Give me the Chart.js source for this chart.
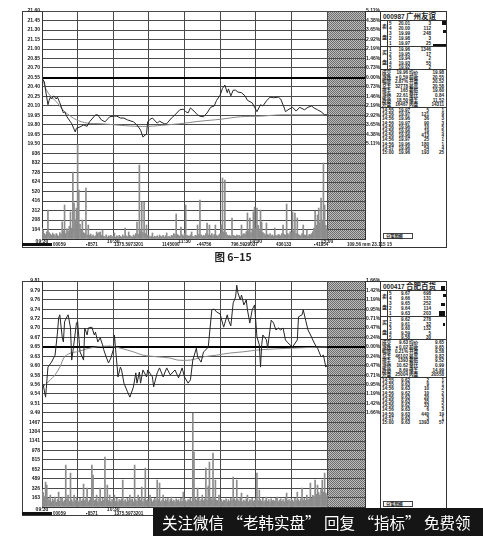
<!DOCTYPE html>
<html>
<head>
<meta charset="utf-8">
<script src="https://cdn.jsdelivr.net/npm/chart.js@4/dist/chart.umd.min.js"></script>
<style>
html,body{margin:0;padding:0;background:#fff;}
#page{position:relative;width:483px;height:536px;overflow:hidden;background:#fff;font-family:"Liberation Sans",Arial,sans-serif;color:#1a1a1a;}
.frame{position:absolute;border:1px solid #3c3c3c;box-sizing:border-box;}
canvas{position:absolute;}
.panel{position:absolute;border:1px solid #333;box-sizing:border-box;background:#fff;overflow:hidden;}
.t{position:absolute;white-space:nowrap;font-size:4.6px;line-height:5px;color:#1c1c1c;font-weight:bold;}
.cn{font-family:"Noto Sans CJK SC",sans-serif;}
.hl{position:absolute;height:1px;background:#333;}
.blk{position:absolute;background:#111;}
#caption{position:absolute;left:200px;top:249px;width:66px;text-align:center;font:bold 10.5px "Noto Sans CJK SC",sans-serif;color:#222;}
#mark{position:absolute;left:153px;top:508px;width:330px;height:28px;background:#151515;color:#fff;font:15.5px/28px "Noto Sans CJK SC",sans-serif;padding-left:9px;box-sizing:border-box;white-space:nowrap;}
</style>
</head>
<body>
<div id="page">
  <div class="frame" style="left:22px;top:11px;width:425px;height:237px;"></div>
  <canvas id="chartTop" width="381" height="248" style="left:0;top:0;"></canvas>
  <div class="panel" id="panelTop" style="left:380px;top:11px;width:67px;height:237px;"></div>
  <div id="statusTop"></div>

  <div id="caption">图 6–15</div>

  <div class="frame" style="left:22px;top:281px;width:425px;height:235px;"></div>
  <canvas id="chartBottom" width="381" height="246" style="left:0;top:270px;"></canvas>
  <div class="panel" id="panelBottom" style="left:380px;top:281px;width:67px;height:235px;"></div>
  <div id="statusBottom"></div>

  <div id="mark">关注微信 “老韩实盘” 回复 “指标” 免费领</div>
</div>

<script>
// ---------- 000987 广州友谊 分时 ----------
const topPrevClose = 20.55;
const topPriceStep = 0.15;
const topPriceLabels = ['21.60','21.45','21.30','21.15','21.00','20.85','20.70','20.55','20.40','20.25','20.10','19.95','19.80','19.65','19.50'];
const topPctLabels = ['5.11%','4.38%','3.65%','2.92%','2.19%','1.46%','0.73%','0.00%','0.73%','1.46%','2.19%','2.92%','3.65%','4.38%','5.11%'];
const topVolLabels = ['936','832','728','624','520','416','312','208','104'];

const topTimes = [0,2,3,5,6,7,8,10,12,13,15,18,19,21,24,25,28,29,32,35,38,40,45,47,50,53,57,61,63,66,69,72,77,80,83,85,88,89,91,93,97,99,103,105,109,112,116,119,121,123,125,128,131,133,136,139,142,145,147,150,152,154,156,157,159,161,163,165,168,171,173,177,179,181,184,186,189,192,195,199,201,204,205,208,211,214,217,221,224,227,229,232,235,238,240];
const topPrices = [20.54,20.48,20.35,20.12,20.19,20.24,20.21,20.26,20.21,20.24,20.15,19.99,20.01,19.93,19.85,19.82,19.69,19.75,19.77,19.80,19.78,19.85,19.96,19.96,19.88,19.85,19.93,19.94,19.94,19.91,19.91,19.88,19.85,19.80,19.72,19.61,19.66,19.85,19.89,19.91,19.83,19.86,19.82,19.82,19.91,19.96,20.04,20.05,20.01,19.99,20.07,20.02,19.96,19.94,19.93,19.99,20.08,20.10,20.19,20.27,20.38,20.43,20.31,20.37,20.26,20.35,20.35,20.32,20.31,20.26,20.19,20.15,20.08,20.01,20.12,20.10,20.18,20.24,20.23,20.24,20.21,20.07,20.01,20.05,20.08,20.02,20.08,20.04,20.08,20.10,20.07,20.04,20.01,19.96,19.96];
const topAvgTimes = [1,3,7,11,15,19,24,29,38,49,63,78,91,104,116,133,150,167,184,200,217,240];
const topAvgPrices = [20.51,20.38,20.26,20.19,20.10,20.01,19.94,19.88,19.83,19.82,19.80,19.78,19.78,19.80,19.82,19.86,19.89,19.93,19.94,19.96,19.96,19.96];
const topVolumes = [
  120,95,60,45,80,317,70,55,40,65,
  50,35,60,45,30,70,55,186,90,372,
  60,110,85,140,296,120,733,394,210,339,
  1029,536,160,95,208,70,60,558,45,153,
  40,55,30,45,25,35,77,60,70,77,
  40,99,30,25,45,20,35,30,40,25,
  30,66,20,35,25,40,30,20,45,30,
  120,35,25,77,40,30,20,45,35,60,
  186,50,810,90,405,70,405,60,153,40,
  35,25,30,66,20,30,25,35,20,44,
  30,25,40,20,35,66,25,30,20,40,
  35,60,45,274,50,40,30,131,45,35,
  60,372,40,35,30,45,77,30,25,40,
  35,153,50,427,45,30,40,35,60,175,
  45,153,40,60,35,50,153,40,30,45,
  60,153,668,80,646,70,45,35,40,30,
  230,40,35,30,45,35,40,30,153,45,
  60,50,80,285,90,230,70,110,296,350,
  120,339,150,90,317,186,70,60,45,175,
  50,40,60,35,45,30,120,40,35,50,
  45,35,60,153,50,40,383,60,45,80,
  70,296,90,285,60,230,50,40,35,60,
  153,45,40,99,35,50,45,60,80,120,
  306,150,263,339,180,449,200,832,372,150,
  100
];

// ---------- 000417 合肥百货 分时 ----------
const botPrevClose = 9.65;
const botPriceStep = 0.02287;
const botPriceLabels = ['9.81','9.79','9.76','9.74','9.72','9.70','9.67','9.65','9.63','9.60','9.58','9.56','9.54','9.51','9.49'];
const botPctLabels = ['1.66%','1.42%','1.19%','0.95%','0.71%','0.47%','0.24%','0.00%','0.24%','0.47%','0.71%','0.95%','1.19%','1.42%','1.66%'];
const botVolLabels = ['1467','1304','1141','978','815','652','489','326','163'];

const botTimes = [1,3,5,8,11,13,14,15,17,18,19,21,22,24,25,26,29,30,32,35,36,38,39,42,44,45,47,49,51,52,54,56,58,60,61,62,63,64,66,67,69,72,74,77,79,80,82,83,85,88,89,93,94,97,99,102,105,108,112,115,118,120,123,125,127,130,131,134,136,138,140,143,145,147,150,152,153,156,157,159,161,163,164,165,167,168,170,172,173,175,177,179,181,183,184,185,186,189,190,193,195,197,199,201,203,205,207,210,211,215,216,219,220,222,224,227,228,231,232,235,237,239,240];
const botPrices = [9.558,9.528,9.601,9.613,9.630,9.684,9.720,9.728,9.674,9.662,9.711,9.723,9.728,9.696,9.618,9.638,9.708,9.711,9.638,9.618,9.696,9.679,9.696,9.698,9.679,9.686,9.662,9.672,9.655,9.643,9.626,9.611,9.623,9.643,9.679,9.643,9.611,9.577,9.601,9.594,9.562,9.541,9.528,9.553,9.587,9.562,9.589,9.562,9.594,9.577,9.594,9.577,9.553,9.587,9.599,9.577,9.599,9.582,9.594,9.575,9.599,9.577,9.562,9.570,9.618,9.647,9.626,9.613,9.638,9.643,9.650,9.740,9.742,9.735,9.730,9.708,9.698,9.728,9.715,9.701,9.757,9.771,9.800,9.781,9.764,9.776,9.752,9.764,9.740,9.708,9.740,9.752,9.674,9.655,9.601,9.655,9.679,9.667,9.647,9.715,9.708,9.691,9.696,9.691,9.696,9.667,9.660,9.652,9.650,9.667,9.723,9.728,9.740,9.715,9.691,9.674,9.667,9.650,9.647,9.626,9.630,9.601,9.606];
const botAvgTimes = [1,7,11,15,19,24,29,35,40,46,57,66,77,85,97,108,114,125,136,147,158,169,184,211,240];
const botAvgPrices = [9.553,9.570,9.582,9.601,9.626,9.635,9.638,9.643,9.647,9.650,9.652,9.647,9.638,9.630,9.626,9.623,9.618,9.618,9.626,9.630,9.635,9.638,9.643,9.647,9.650];
const botVolumes = [
  300,250,180,433,381,150,120,208,90,140,
  110,173,80,130,260,100,150,173,90,120,
  727,140,208,100,588,130,90,208,110,173,
  120,90,150,100,130,398,110,140,329,90,
  120,150,727,554,110,130,208,90,140,329,
  100,150,120,865,140,381,110,208,90,130,
  120,208,100,150,90,130,110,140,467,100,
  130,90,150,110,208,120,140,90,727,130,
  100,208,150,120,346,90,140,675,110,130,
  100,208,140,90,120,150,110,467,130,415,
  90,120,208,100,140,110,156,90,130,173,
  100,120,90,140,110,130,90,150,100,260,
  140,110,90,130,120,150,100,1627,952,140,
  120,329,150,100,130,208,110,140,675,120,
  363,779,150,130,934,140,467,120,110,208,
  100,130,90,120,110,140,90,130,100,150,
  120,519,140,110,467,130,100,150,242,90,
  120,100,140,208,90,130,110,150,100,120,
  140,588,110,294,130,100,150,90,120,173,
  100,130,90,140,110,120,100,150,173,90,
  120,140,100,130,90,150,242,110,130,100,
  140,120,90,150,110,260,130,100,140,329,
  120,150,110,208,130,140,415,150,200,180,
  467,220,381,250,200,300,467,260,588,240,
  200
];

// shared time axis: 240 trading minutes plus the shaded after-close strip
const timeTickMinutes = [0,60,120,180,240];
const timeTickLabels = ['09:30','10:30','11:30','14:00','15:00'];
const gridMinutes = [0,30,60,90,120,150,180,210,240,272];
const sessionEnd = 240;
const axisEnd = 272;

// ---------- quote panels ----------
const topQuote = {
  code:'000987', name:'广州友谊',
  sells:[['20.01','3'],['20.00','112'],['19.99','248'],['19.98','3'],['19.97','25']],
  buys:[['19.96','1346'],['19.95','17'],['19.94','2'],['19.93','55'],['19.92','2']],
  stats:[['成交','19.96','均价','19.98'],['涨跌','▼0.59','前收','20.55'],['幅度','2.87%','开盘','20.52'],['总手','32778','最高','20.58'],['现手','165','最低','19.60'],['涨停','22.61','量比','0.84'],['跌停','18.50','换手','11.52'],['外盘','16467','内盘','14311']],
  ticks:[['14:55','19.97','5','1'],['14:56','19.97','121','9'],['14:56','19.96','36','3'],['14:56','19.97','90','3'],['14:56','19.96','10','5'],['14:56','19.96','19','5'],['14:56','19.96','413','4'],['14:56','19.97','25','1'],['14:56','19.96','180','1'],['14:57','19.96','54','4'],['15:00','19.96','193','25']],
  marks:[[61,9,4,4],[62,18,3,3],[52,32,13,2]]
};
const botQuote = {
  code:'000417', name:'合肥百货',
  sells:[['9.67','698'],['9.66','131'],['9.65','252'],['9.64','114'],['9.63','203']],
  buys:[['9.62','278'],['9.61','32'],['9.60','132'],['9.59','5'],['9.58','30']],
  stats:[['成交','9.63','均价','9.65'],['涨跌','▼0.02','前收','9.65'],['幅度','0.21%','开盘','9.58'],['总手','46102','最高','9.82'],['现手','1393','最低','9.52'],['涨停','10.62','量比','0.99'],['跌停','8.69','换手','14.99'],['外盘','25004','内盘','20558']],
  ticks:[['14:55','9.62','2','1'],['14:55','9.63','9','1'],['14:56','9.63','10','2'],['14:56','9.62','10','2'],['14:56','9.63','20','3'],['14:56','9.63','35','4'],['14:56','9.62','33','5'],['14:56','9.63','6','3'],['14:56','9.63','440','19'],['14:57','9.63','3','1'],['15:00','9.63','1393','57']],
  marks:[[60,4,4,5],[62,12,3,3],[60,21,4,3],[58,29,6,5],[62,41,2,3]]
};

const statusItems = [[53,'00059'],[86,'▪8571'],[114,'1375.5973201'],[162,'1145000'],[197,'▪44756'],[231,'796.5929037'],[276,'436133'],[314,'▪41954'],[347,'109.56 mm 23.115 15']];

const TICK_FONT = {family:'"Liberation Sans", Arial, sans-serif', size:5, weight:'bold'};
const GRID = '#4a4a4a';

// crosshatch fill for the after-close strip
function makeHatch(ctx) {
  const c = document.createElement('canvas');
  c.width = 2; c.height = 2;
  const g = c.getContext('2d');
  g.fillStyle = '#bdbdbd'; g.fillRect(0,0,2,2);
  g.fillStyle = '#6c6c6c'; g.fillRect(0,0,1,1); g.fillRect(1,1,1,1);
  return ctx.createPattern(c, 'repeat');
}

const hatchPlugin = {
  id: 'hatch',
  beforeDraw(chart, args, opts) {
    const {ctx, chartArea: a, scales} = chart;
    const x0 = scales.x.getPixelForValue(opts.from);
    ctx.save();
    ctx.fillStyle = makeHatch(ctx);
    ctx.fillRect(x0, a.top, a.right - x0, a.bottom - a.top);
    ctx.restore();
  }
};

function drawIntraday(canvasId, d) {
  const half = (d.priceLabels.length - 1) / 2;
  const pMax = d.prevClose + half * d.step;
  const pMin = d.prevClose - half * d.step;
  const priceTicks = d.priceLabels.map((_, i) => ({value: pMax - i * d.step}));
  const volStep = parseFloat(d.volLabels[d.volLabels.length - 1]);
  const volMax = volStep * (d.volLabels.length + 1);
  const volTicks = [];
  for (let k = 0; k <= d.volLabels.length + 1; k++) volTicks.push({value: k * volStep});

  const isClose = v => Math.abs(v - d.prevClose) < 1e-6;

  new Chart(document.getElementById(canvasId), {
    type: 'line',
    data: {
      datasets: [
        {type:'line', data: d.times.map((t, i) => ({x: t, y: d.prices[i]})), yAxisID:'yP',
         borderColor:'#262626', borderWidth:1, pointRadius:0, tension:0, order:1},
        {type:'line', data: d.avgTimes.map((t, i) => ({x: t, y: d.avgPrices[i]})), yAxisID:'yP',
         borderColor:'#8a8a8a', borderWidth:1, pointRadius:0, tension:0.3, order:2},
        {type:'bar', data: d.volumes.map((v, i) => ({x: i, y: v})), yAxisID:'yV',
         backgroundColor:'#8c8c8c', borderWidth:0, barThickness:1, order:3}
      ]
    },
    options: {
      responsive:false, animation:false, devicePixelRatio:1, events:[],
      layout:{padding:{top:11, left:0, right:0, bottom:0}},
      plugins:{legend:{display:false}, tooltip:{enabled:false}, hatch:{from: sessionEnd}},
      scales: {
        x: {
          type:'linear', min:0, max:axisEnd, offset:false,
          afterBuildTicks: s => { s.ticks = gridMinutes.map(v => ({value: v})); },
          ticks:{autoSkip:false, maxRotation:0, padding:0, font:TICK_FONT, color:'#222',
                 callback: v => { const i = timeTickMinutes.indexOf(v); return i < 0 ? '' : timeTickLabels[i]; }},
          grid:{color:GRID, lineWidth:1, drawTicks:false, offset:false},
          border:{color:'#333'},
          afterFit: s => { s.height = 9; }
        },
        // left stack is laid out in reverse order: the volume pane is listed first so it sits below
        yV: {
          type:'linear', position:'left', stack:'L', stackWeight:10, min:0, max:volMax,
          afterBuildTicks: s => { s.ticks = volTicks.map(t => ({value: t.value})); },
          ticks:{autoSkip:false, padding:2, font:TICK_FONT, color:'#222',
                 callback: v => { const k = Math.round(v / volStep); return (k >= 1 && k <= d.volLabels.length) ? d.volLabels[d.volLabels.length - k] : ''; }},
          grid:{drawTicks:false, color:GRID, lineWidth:1},
          border:{color:'#333'},
          afterFit: s => { s.width = 42; }
        },
        yP: {
          type:'linear', position:'left', stack:'L', stackWeight:14, min:pMin, max:pMax,
          afterBuildTicks: s => { s.ticks = priceTicks.map(t => ({value: t.value})); },
          ticks:{autoSkip:false, padding:2, font:TICK_FONT, color:'#222', callback: (v, i) => d.priceLabels[i]},
          grid:{drawTicks:false, color: c => (c.tick && isClose(c.tick.value)) ? '#000' : GRID,
                lineWidth: c => (c.tick && isClose(c.tick.value)) ? 2 : 1},
          border:{color:'#333'},
          afterFit: s => { s.width = 42; }
        },
        yR: {
          type:'linear', position:'right', stack:'R', stackWeight:14, min:pMin, max:pMax,
          afterBuildTicks: s => { s.ticks = priceTicks.map(t => ({value: t.value})); },
          ticks:{autoSkip:false, padding:1, font:TICK_FONT, color:'#222', callback: (v, i) => d.pctLabels[i]},
          grid:{display:false, drawTicks:false},
          border:{color:'#333'},
          afterFit: s => { s.width = 16; }
        },
        yR2: {
          type:'linear', position:'right', stack:'R', stackWeight:10, min:0, max:1,
          ticks:{display:false}, grid:{display:false, drawTicks:false},
          border:{color:'#333'},
          afterFit: s => { s.width = 16; }
        }
      }
    },
    plugins:[hatchPlugin]
  });
}

drawIntraday('chartTop', {
  prevClose: topPrevClose, step: topPriceStep, priceLabels: topPriceLabels, pctLabels: topPctLabels,
  volLabels: topVolLabels, times: topTimes, prices: topPrices, avgTimes: topAvgTimes,
  avgPrices: topAvgPrices, volumes: topVolumes
});
drawIntraday('chartBottom', {
  prevClose: botPrevClose, step: botPriceStep, priceLabels: botPriceLabels, pctLabels: botPctLabels,
  volLabels: botVolLabels, times: botTimes, prices: botPrices, avgTimes: botAvgTimes,
  avgPrices: botAvgPrices, volumes: botVolumes
});

// ---------- quote panel ----------
function txt(el, s, x, y, opt) {
  const n = document.createElement('div');
  n.className = 't' + (opt && opt.cn ? ' cn' : '');
  n.textContent = s;
  n.style.top = y + 'px';
  if (opt && opt.right !== undefined) {
    n.style.left = (opt.right - 30) + 'px';
    n.style.width = '30px';
    n.style.textAlign = 'right';
  } else {
    n.style.left = x + 'px';
  }
  if (opt && opt.size) { n.style.fontSize = opt.size + 'px'; n.style.lineHeight = (opt.size + 1) + 'px'; }
  el.appendChild(n);
  return n;
}
function hline(el, y) {
  const n = document.createElement('div');
  n.className = 'hl'; n.style.left = '0'; n.style.width = '100%'; n.style.top = y + 'px';
  el.appendChild(n);
}
function vline(el, x, y, h) {
  const n = document.createElement('div');
  n.className = 'hl'; n.style.left = x + 'px'; n.style.width = '1px'; n.style.top = y + 'px'; n.style.height = h + 'px';
  el.appendChild(n);
}
function buildPanel(id, q) {
  const el = document.getElementById(id);
  txt(el, q.code, 2, 0.5, {size:6.5});
  txt(el, q.name, 25, -0.5, {size:7.5, cn:true});
  hline(el, 8);
  txt(el, '卖', 1, 11, {cn:true, size:5});
  txt(el, '盘', 1, 22, {cn:true, size:5});
  vline(el, 6, 8, 49);
  q.sells.forEach((r, i) => {
    const y = 9 + i * 4.9;
    txt(el, String(5 - i), 8, y);
    txt(el, r[0], 0, y, {right:29});
    txt(el, r[1], 0, y, {right:50});
  });
  hline(el, 34);
  txt(el, '买', 1, 37, {cn:true, size:5});
  txt(el, '盘', 1, 47, {cn:true, size:5});
  q.buys.forEach((r, i) => {
    const y = 35 + i * 4.5;
    txt(el, String(i + 1), 8, y);
    txt(el, r[0], 0, y, {right:29});
    txt(el, r[1], 0, y, {right:50});
  });
  hline(el, 57);
  q.stats.forEach((r, i) => {
    const y = 58 + i * 4.6;
    txt(el, r[0], 1, y, {cn:true});
    txt(el, r[1], 0, y, {right:27});
    txt(el, r[2], 28, y, {cn:true});
    txt(el, r[3], 0, y, {right:63});
  });
  hline(el, 95);
  q.ticks.forEach((r, i) => {
    const y = 96 + i * 4.2;
    txt(el, r[0], 1, y);
    txt(el, r[1], 0, y, {right:29});
    txt(el, r[2], 0, y, {right:48});
    txt(el, r[3], 0, y, {right:63});
  });
  q.marks.forEach(m => {
    const b = document.createElement('div');
    b.className = 'blk';
    b.style.left = m[0] + 'px'; b.style.top = m[1] + 'px'; b.style.width = m[2] + 'px'; b.style.height = m[3] + 'px';
    el.appendChild(b);
  });
  const box = document.createElement('div');
  box.style.cssText = 'position:absolute;left:2px;bottom:8px;width:30px;height:6px;border:1px solid #444;box-sizing:border-box;';
  el.appendChild(box);
  txt(box, '分笔明细', 2, 0, {cn:true, size:4.2});
}
buildPanel('panelTop', topQuote);
buildPanel('panelBottom', botQuote);

// ---------- status line under each chart ----------
function buildStatus(id, y, limit) {
  const el = document.getElementById(id);
  const bar = document.createElement('div');
  bar.className = 'blk';
  bar.style.left = '22px'; bar.style.top = (y + 1) + 'px'; bar.style.width = '30px'; bar.style.height = '3px';
  el.appendChild(bar);
  statusItems.forEach(s => { if (s[0] < limit) txt(el, s[1], s[0], y); });
}
buildStatus('statusTop', 241.5, 999);
buildStatus('statusBottom', 511, 150);
</script>
</body>
</html>
